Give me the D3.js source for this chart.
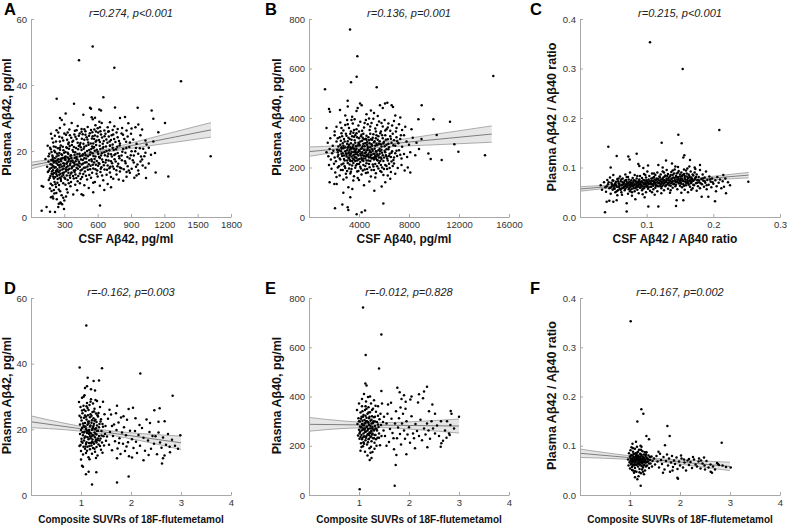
<!DOCTYPE html>
<html><head><meta charset="utf-8">
<script src="https://cdn.jsdelivr.net/npm/d3@7"></script>
<style>body{margin:0;background:#fff}svg{display:block}</style>
</head><body>
<svg id="chart" width="787" height="527"></svg>
<script>
// ---------------- DATA ----------------
const panelA_points = [
[555,51.7],[432,47.5],[750,45.2],[1350,41.1],[1617,18.4],[1236,12.3],
[231,35.8],[651,36.3],[387,34.3],[756,33.2],[531,33.1],[960,33.1],[1086,32.3],[615,32.6],[540,32.8],[630,32.3],[312,31.4],[471,31.0],[261,30.0],[546,30.2],[576,30.1],[801,30.0],[846,30.3],[1101,29.8],[276,29.4],[556,29.6],
[366,28.5],[615,28.9],[636,28.5],[711,28.7],[876,28.4],[966,28.0],[1206,28.5],[300,28.0],[420,27.6],[510,27.3],[580,27.8],[690,27.2],[750,27.5],[820,27.0],[905,26.8],[260,27.0],[345,26.5],[455,26.7],[540,26.4],[600,26.9],[660,26.2],[735,26.4],[780,26.7],[860,26.2],[940,27.2],[1000,26.5],[1146,25.7],[230,26.3],[395,26.1],[490,26.0],[625,26.0],[700,26.0],
[180,25.2],[215,24.6],[245,25.6],[280,24.0],[300,25.3],[325,23.4],[350,24.8],[372,22.8],[390,25.0],[410,23.6],[430,24.6],[445,22.4],[465,25.1],[480,23.4],[500,24.2],[515,22.6],[530,25.4],[548,23.8],[560,22.3],[575,24.7],[590,23.2],[605,25.6],[620,22.7],[640,24.1],[655,23.0],[670,25.2],[688,22.5],[700,24.4],[720,23.3],[740,25.0],[760,22.7],[780,24.2],[800,22.3],[815,25.3],[840,23.6],[870,24.4],[890,22.6],[920,23.5],[950,22.2],[985,24.8],[1030,23.2],[1040,22.0],[1101,22.9],[200,22.6],[260,22.9],[335,22.1],[455,25.8],[585,25.9],[735,22.0],[555,24.5],
[150,21.6],[165,19.2],[178,20.5],[192,18.6],[205,21.4],[218,19.6],[230,18.3],[242,20.8],[255,19.4],[268,21.7],[280,18.8],[292,20.2],[305,18.2],[318,21.1],[330,19.5],[342,20.7],[355,18.5],[368,21.8],[380,19.8],[392,18.9],[405,20.9],[418,19.1],[430,21.5],[442,18.4],[455,20.3],[468,19.0],[480,21.3],[492,18.7],[505,20.0],[518,21.9],[530,18.9],[542,20.6],[555,19.3],[568,21.2],[580,18.3],[592,20.4],[605,19.1],[618,21.6],[630,18.6],[645,20.8],[660,19.6],[675,21.4],[690,18.4],[705,20.2],[720,19.0],[735,21.0],[750,18.8],[765,20.5],[780,19.4],[798,21.7],[815,18.6],[830,20.6],[850,19.5],[868,18.2],[885,21.2],[905,19.9],[925,18.6],[945,20.9],[965,19.2],[990,18.3],[1010,20.7],[1030,19.5],[1060,21.0],[1080,18.9],[1116,19.4],[260,21.0],[310,19.7],[440,21.9],[560,20.9],[710,21.6],
[130,17.6],[145,15.2],[158,16.8],[170,14.6],[182,17.3],[190,15.8],[198,14.2],[206,16.5],[214,17.8],[222,15.1],[230,16.3],[238,14.5],[246,17.5],[254,15.6],[262,14.1],[270,16.9],[278,15.3],[286,17.9],[294,14.7],[302,16.1],[310,17.3],[318,15.0],[326,16.6],[334,14.3],[342,17.6],[350,15.7],[358,16.9],[366,14.8],[374,17.1],[382,15.4],[390,16.4],[398,14.2],[406,17.7],[414,15.9],[422,14.6],[430,16.8],[440,15.2],[450,17.4],[460,14.4],[470,16.2],[480,17.8],[490,15.0],[500,16.6],[512,14.3],[524,17.2],[536,15.5],[548,16.9],[560,14.7],[572,17.6],[584,15.8],[596,14.1],[608,16.4],[620,17.9],[634,15.1],[648,16.7],[662,14.4],[676,17.3],[690,15.6],[705,14.8],[720,16.9],[736,15.3],[752,17.5],[768,14.2],[785,16.1],[800,15.0],[818,17.2],[835,14.5],[852,16.3],[870,15.4],[888,17.7],[906,14.6],[925,16.5],[945,15.2],[965,14.1],[985,16.8],[1005,15.6],[1030,14.9],[1060,16.2],[200,17.0],[265,17.4],[330,18.0],[395,17.9],
[152,13.6],[168,11.8],[185,13.1],[200,12.2],[212,10.6],[225,13.7],[240,11.5],[255,12.8],[270,10.9],[285,13.3],[300,12.0],[315,13.9],[330,11.2],[348,12.6],[365,13.5],[385,11.7],[400,12.9],[420,10.8],[440,13.2],[460,12.1],[485,13.8],[505,11.4],[525,12.7],[550,13.4],[575,10.6],[600,12.3],[625,13.6],[650,11.1],[680,12.8],[710,13.5],[740,11.6],[770,12.9],[800,13.8],[830,11.0],[860,12.2],[890,13.4],[930,11.9],[970,13.0],[1035,11.8],[1122,13.5],[340,10.2],[560,10.4],[690,10.0],[240,13.9],
[96,9.4],[110,9.2],[170,8.6],[185,7.9],[195,6.2],[200,5.6],[210,7.1],[225,9.1],[250,8.3],[275,6.6],[300,5.0],[330,7.4],[355,9.3],[380,6.8],[415,8.1],[455,6.9],[470,6.6],[520,8.8],[560,7.5],[620,9.5],[660,8.2],[720,9.0],[250,4.0],[265,4.4],[232,5.4],[180,6.0],
[96,1.9],[171,1.6],[216,1.5],[297,2.4],[621,3.5],[280,3.9],[268,4.2],[245,3.0],[140,3.0],
[175,12.4],[188,13.8],[196,12.9],[208,13.3],[219,12.1],[228,13.0],[236,12.5],[249,13.6],[258,11.9],[266,13.1],[276,12.3],[290,12.7],[298,13.5],[308,11.6],[322,12.6],[337,13.4],[352,11.9],[360,13.2],[378,12.4],[392,13.6],[408,11.8],[425,12.4],[448,11.5],[470,13.0],[495,12.5],[540,11.9],[590,13.1],[640,12.6],[720,12.1],[790,11.4],[860,13.6],[950,12.6],
[160,14.0],[176,16.0],[186,14.9],[194,17.5],[202,15.4],[210,14.9],[218,16.9],[226,14.0],[234,17.1],[242,15.8],[250,16.7],[258,15.0],[266,15.9],[274,17.7],[282,14.4],[290,16.3],[298,15.5],[306,17.6],[314,14.4],[322,16.1],[330,15.4],[338,17.0],[346,14.6],[354,16.2],[362,17.8],[370,15.2],[378,16.6],[386,14.1],[394,15.8],[402,16.9],[410,14.9],[418,17.4],[426,15.6],[436,16.3],[446,14.1],[456,15.9],[466,17.3],[476,14.9],[486,16.5],[496,17.7],[508,15.3],[520,16.0],[532,14.5],[544,17.5],[556,15.8],[568,16.5],[580,14.5],[592,17.0],[604,15.5],[616,16.1],[628,14.6],[640,17.4],[656,15.7],[670,16.5],[684,14.3],[698,17.1],[714,15.2],[730,16.3],[746,14.6],[762,16.8],[778,15.4],[796,17.8],[812,14.8],[846,16.9],[880,14.1],[916,17.2],[958,15.9],[1000,17.4],
[158,18.4],[172,21.0],[185,19.7],[196,18.2],[210,20.1],[222,21.2],[236,19.2],[248,18.6],[262,20.4],[274,19.0],[286,21.3],[298,19.5],[312,18.3],[324,20.9],[336,19.1],[348,21.5],[360,18.7],[374,20.3],[386,21.2],[398,19.6],[410,18.2],[424,20.5],[436,19.2],[448,21.1],[462,18.6],[474,20.7],[486,19.5],[498,21.6],[512,18.4],[524,20.3],[536,19.6],[550,21.4],[562,18.5],[574,20.1],[586,21.8],[600,19.8],[612,18.2],[624,20.6],[638,19.3],[652,21.2],[666,18.7],[680,20.0],[696,19.2],[712,21.7],[728,18.3],[744,20.3],[760,19.1],[776,21.3],[792,18.4],[822,19.8],[858,20.9],[898,18.7],[938,19.9],[980,20.8],[1020,18.4],
[190,23.8],[225,22.9],[255,24.3],[290,23.2],[315,24.9],[340,22.6],[362,24.0],[380,23.1],[400,24.3],[420,22.5],[438,25.3],[458,23.7],[472,22.2],[490,24.9],[508,23.5],[522,24.6],[538,22.3],[552,25.7],[568,23.6],[582,22.8],[598,24.4],[612,23.3],[630,25.0],[646,22.2],[662,24.5],[678,23.5],[694,25.8],[708,22.9],[726,24.8],[748,23.6],[770,25.6],[792,23.0],[828,24.9],[856,22.8],[900,25.2],[480,26.6],[620,27.2],[410,26.3],[570,26.5],[330,25.6],
[160,11.2],[178,10.1],[192,9.6],[206,11.7],[220,9.9],[238,10.4],[252,9.7],[268,11.5],[290,10.2],[310,9.8],[322,8.4],[360,10.6],[398,9.8],[440,10.2],[480,9.6],[206,8.2],[228,7.3],[262,7.8],[290,5.8],[315,6.2]
];

const panelB_points = [
[3281,758],[3867,650],[3813,567],[3361,544],[5415,524],[1281,516],[14747,570],[3093,470],[9015,452],
[1600,436],[1680,425],[2480,432],[3893,440],[3800,428],[4080,459],[4213,452],[5680,452],[6080,459],[6267,462],[6613,452],[6720,444],[2900,410],[3450,405],[4600,415],[5200,420],[5500,408],[6900,410],[7300,402],[4950,430],[5900,440],[3100,446],
[2200,365],[2500,382],[2750,350],[2900,372],[3050,392],[3200,360],[3350,345],[3500,378],[3650,395],[3800,355],[3950,370],[4100,385],[4250,348],[4400,362],[4550,392],[4700,375],[4850,352],[5000,380],[5150,397],[5300,358],[5450,372],[5600,386],[5750,345],[5900,366],[6050,392],[6200,355],[6350,378],[6500,348],[6650,370],[6800,388],[7000,360],[7200,375],[7450,352],[7700,365],[8750,395],[9950,395],[11280,385],[8200,355],[1400,360],[2050,345],
[1500,300],[1700,318],[1900,288],[2050,330],[2200,305],[2350,285],[2450,322],[2600,338],[2700,298],[2800,315],[2900,282],[3000,328],[3100,306],[3200,292],[3300,336],[3400,312],[3500,284],[3600,324],[3700,300],[3800,338],[3900,289],[4000,318],[4100,305],[4200,332],[4300,286],[4400,314],[4500,298],[4600,328],[4700,283],[4800,310],[4900,336],[5000,294],[5100,320],[5200,302],[5300,288],[5400,330],[5500,312],[5600,296],[5700,338],[5800,285],[5900,318],[6000,304],[6100,330],[6200,292],[6300,314],[6400,282],[6500,326],[6600,300],[6700,336],[6800,310],[6900,288],[7000,322],[7150,298],[7300,315],[7450,284],[7600,330],[7800,305],[8000,292],[8300,320],[8600,300],[9000,315],[10215,331],[11630,294],[3550,340],[4350,296],[2550,308],[5050,312],[6050,286],[3150,320],[4650,302],
[1400,262],[1550,245],[1650,275],[1750,232],[1850,258],[1950,268],[2050,240],[2150,225],[2250,272],[2350,252],[2450,236],[2550,266],[2650,246],[2750,278],[2850,228],[2950,258],[3050,270],[3150,238],[3250,250],[3350,276],[3450,226],[3550,262],[3650,242],[3750,272],[3850,254],[3950,232],[4050,266],[4150,248],[4250,278],[4350,236],[4450,258],[4550,244],[4650,270],[4750,228],[4850,262],[4950,250],[5050,274],[5150,238],[5250,256],[5350,266],[5450,230],[5550,248],[5650,276],[5750,240],[5850,260],[5950,226],[6050,268],[6150,250],[6250,236],[6350,274],[6450,256],[6550,242],[6650,266],[6750,230],[6900,258],[7050,246],[7200,270],[7400,236],[7600,255],[7850,242],[8100,262],[8500,250],[8800,275],[9550,257],[9735,234],[11950,264],[14080,250],[10615,230],[2600,256],[3000,244],[3400,264],[3800,238],[4200,258],[4600,252],[5000,236],[5400,244],[5800,272],[6200,244],[3600,276],[4400,270],[2300,262],[2800,248],[3200,262],[3700,226],[4100,222],[4900,242],[5700,226],[6600,224],
[1600,210],[1800,195],[2000,215],[2100,180],[2300,200],[2450,168],[2600,212],[2700,190],[2850,205],[2950,175],[3100,218],[3200,196],[3350,183],[3450,208],[3600,165],[3700,199],[3850,214],[3950,186],[4100,203],[4200,172],[4350,210],[4450,192],[4600,217],[4700,180],[4850,201],[4950,164],[5100,212],[5200,190],[5350,177],[5450,205],[5600,218],[5700,186],[5850,200],[5950,170],[6100,210],[6250,194],[6400,215],[6550,182],[6700,206],[6900,175],[7100,198],[7400,210],[7650,188],[7900,200],[8100,180],[2200,162],[3000,160],[3900,158],[5300,160],[6300,168],
[1650,140],[2027,133],[2213,133],[2750,152],[3150,120],[3467,113],[3547,147],[4000,150],[4827,143],[5227,106],[5813,123],[6100,140],[6500,155],[2747,98],[4400,128],
[2080,35],[2667,51],[3093,39],[3147,28],[3813,11],[4213,19],[4480,26],[5947,55],[3300,80],
[2300,244],[2400,270],[2500,232],[2600,276],[2700,258],[2800,234],[2900,266],[3000,252],[3050,228],[3100,280],[3150,258],[3200,240],[3250,272],[3300,226],[3350,256],[3400,244],[3450,278],[3500,236],[3550,250],[3600,232],[3650,266],[3700,254],[3750,240],[3800,276],[3850,228],[3900,262],[3950,248],[4000,270],[4050,234],[4100,256],[4150,276],[4200,238],[4250,262],[4300,250],[4350,226],[4400,246],[4450,272],[4500,236],[4550,262],[4600,228],[4650,250],[4700,276],[4750,254],[4800,240],[4850,270],[4900,226],[4950,262],[5000,252],[5050,238],[5100,268],[5150,256],[5200,232],[5250,276],[5300,246],[5350,236],[5400,264],[5450,254],[5500,228],[5550,270],[5600,240],[5650,256],[5700,266],[5800,234],[5900,250],[6000,240],[6100,262],[6200,274],[6300,228],[6400,246],[6600,260],[6800,240],[7000,268],[7300,252],[3250,232],[3750,262],[4250,230],[4750,244],[5250,242],
[2300,318],[2500,292],[2650,326],[2750,288],[2850,305],[2950,336],[3050,296],[3150,284],[3250,315],[3350,298],[3450,326],[3550,292],[3650,310],[3750,286],[3850,322],[3950,300],[4050,290],[4150,326],[4250,308],[4350,336],[4450,286],[4550,316],[4650,292],[4750,322],[4850,298],[4950,314],[5050,288],[5150,334],[5250,306],[5350,318],[5450,290],[5550,326],[5650,306],[5750,294],[5850,330],[5950,298],[6150,312],[6350,296],[6550,316],[6750,290],[7050,306],[7350,330],[3700,330],[4300,320],[4900,282],[5400,296],[2600,282],[3300,282],[4000,296],[4600,312],
[2400,205],[2550,190],[2750,216],[2900,198],[3050,186],[3250,212],[3400,194],[3550,218],[3750,208],[3850,184],[4000,214],[4150,196],[4300,188],[4500,206],[4650,194],[4800,214],[5000,190],[5150,204],[5300,214],[5550,196],[5750,210],[6000,194],[6200,206],[6450,198],[6800,216],[3300,176],[4550,178],[5800,182],
[2600,360],[3100,375],[3600,352],[4000,345],[4450,380],[4900,366],[5350,345],[5800,380],[6300,362],[6950,345],[3400,392],[4800,398],[6100,350]
];

const panelC_points = [
[0.105,0.353],[0.154,0.299],[0.209,0.176],[0.1475,0.166],[0.1525,0.149],[0.1225,0.150],[0.0425,0.142],[0.055,0.123],[0.085,0.128],[0.0725,0.122],[0.0745,0.116],[0.1565,0.125],[0.155,0.120],[0.129,0.114],[0.0875,0.107],[0.089,0.103],[0.1175,0.105],[0.18,0.105],[0.165,0.115],[0.046,0.100],[0.138,0.108],[0.172,0.100],[0.102,0.104],[0.095,0.099],[0.143,0.102],[0.164,0.102],
[0.031,0.064],[0.033,0.055],[0.036,0.070],[0.038,0.060],[0.039,0.051],[0.0375,0.0094],[0.040,0.031],[0.041,0.075],[0.042,0.066],[0.044,0.033],[0.044,0.058],
[0.045,0.080],[0.046,0.047],[0.047,0.069],[0.048,0.062],[0.049,0.055],[0.050,0.073],[0.050,0.085],[0.051,0.058],[0.052,0.066],[0.053,0.050],[0.054,0.071],[0.055,0.061],[0.056,0.077],[0.056,0.044],[0.057,0.054],[0.058,0.068],[0.059,0.063],[0.060,0.082],[0.060,0.057],[0.050,0.031],[0.055,0.034],
[0.061,0.072],[0.062,0.050],[0.063,0.065],[0.064,0.078],[0.065,0.059],[0.066,0.069],[0.067,0.054],[0.068,0.086],[0.068,0.063],[0.069,0.075],[0.070,0.060],[0.070,0.011],[0.070,0.028],[0.071,0.067],[0.072,0.047],[0.072,0.081],[0.073,0.056],[0.074,0.071],[0.074,0.064],[0.075,0.052],[0.075,0.090],
[0.076,0.061],[0.077,0.074],[0.078,0.067],[0.078,0.043],[0.079,0.079],[0.080,0.058],[0.080,0.070],[0.081,0.064],[0.082,0.085],[0.082,0.052],[0.083,0.073],[0.084,0.060],[0.085,0.067],[0.085,0.078],[0.086,0.055],[0.087,0.070],[0.088,0.063],[0.088,0.048],[0.089,0.076],[0.090,0.059],[0.090,0.083],[0.083,0.036],
[0.091,0.066],[0.092,0.072],[0.093,0.054],[0.093,0.079],[0.094,0.062],[0.095,0.069],[0.096,0.087],[0.096,0.058],[0.097,0.074],[0.098,0.065],[0.099,0.050],[0.099,0.080],[0.100,0.061],[0.101,0.071],[0.101,0.092],[0.102,0.057],[0.103,0.076],[0.103,0.066],[0.104,0.083],[0.105,0.053],[0.1025,0.021],[0.097,0.040],
[0.106,0.069],[0.107,0.078],[0.107,0.061],[0.108,0.088],[0.109,0.073],[0.110,0.056],[0.110,0.066],[0.111,0.081],[0.112,0.070],[0.113,0.059],[0.113,0.085],[0.114,0.074],[0.115,0.064],[0.116,0.090],[0.116,0.052],[0.117,0.077],[0.118,0.068],[0.119,0.082],[0.120,0.062],[0.120,0.073],[0.1175,0.021],[0.112,0.045],
[0.121,0.086],[0.122,0.058],[0.122,0.076],[0.123,0.069],[0.124,0.092],[0.125,0.065],[0.125,0.080],[0.126,0.054],[0.127,0.074],[0.128,0.084],[0.128,0.062],[0.129,0.071],[0.130,0.095],[0.130,0.078],[0.131,0.066],[0.132,0.087],[0.132,0.057],[0.133,0.075],[0.134,0.069],[0.135,0.082],[0.135,0.049],
[0.136,0.063],[0.137,0.091],[0.137,0.077],[0.138,0.071],[0.139,0.085],[0.139,0.059],[0.140,0.080],[0.141,0.067],[0.142,0.074],[0.142,0.096],[0.143,0.062],[0.144,0.083],[0.144,0.070],[0.145,0.088],[0.145,0.034],[0.146,0.076],[0.146,0.056],[0.147,0.081],[0.148,0.068],[0.148,0.093],[0.149,0.073],[0.150,0.063],[0.144,0.022],[0.150,0.086],
[0.151,0.078],[0.151,0.070],[0.152,0.090],[0.153,0.060],[0.153,0.083],[0.154,0.074],[0.155,0.066],[0.155,0.034],[0.156,0.087],[0.157,0.079],[0.157,0.055],[0.158,0.071],[0.159,0.094],[0.159,0.064],[0.160,0.082],[0.161,0.075],[0.162,0.068],[0.162,0.050],[0.163,0.086],[0.164,0.072],[0.165,0.080],[0.165,0.061],
[0.166,0.092],[0.167,0.069],[0.168,0.077],[0.169,0.058],[0.170,0.084],[0.170,0.073],[0.171,0.064],[0.172,0.090],[0.173,0.079],[0.174,0.068],[0.175,0.053],[0.175,0.086],[0.176,0.074],[0.177,0.062],[0.178,0.081],[0.179,0.070],[0.180,0.095],[0.180,0.058],
[0.182,0.077],[0.183,0.066],[0.1825,0.041],[0.184,0.086],[0.185,0.073],[0.186,0.061],[0.187,0.080],[0.188,0.069],[0.189,0.092],[0.190,0.056],[0.191,0.075],[0.1925,0.041],[0.193,0.065],[0.194,0.082],[0.196,0.071],[0.197,0.060],[0.198,0.078],[0.200,0.067],
[0.2025,0.032],[0.203,0.074],[0.205,0.062],[0.206,0.081],[0.208,0.069],[0.210,0.076],[0.212,0.058],[0.214,0.072],[0.215,0.085],[0.216,0.061],[0.219,0.048],[0.218,0.078],[0.2525,0.071],[0.222,0.070],[0.225,0.064],[0.204,0.052],
[0.040,0.062],[0.043,0.070],[0.046,0.059],[0.048,0.066],[0.049,0.074],[0.051,0.063],[0.052,0.057],[0.053,0.068],[0.054,0.064],[0.055,0.052],[0.057,0.072],[0.058,0.060],[0.059,0.067],[0.061,0.055],[0.062,0.064],[0.062,0.076],[0.063,0.058],[0.064,0.070],[0.065,0.066],[0.066,0.061],[0.067,0.073],[0.068,0.057],[0.069,0.066],[0.070,0.071],[0.071,0.062],[0.072,0.068],[0.073,0.076],[0.074,0.059],[0.075,0.066],[0.076,0.070],[0.077,0.056],[0.078,0.063],[0.079,0.069],[0.080,0.062],[0.081,0.074],[0.082,0.066],[0.083,0.058],[0.084,0.071],[0.085,0.063],[0.086,0.068],[0.087,0.061],[0.088,0.073],[0.089,0.066],[0.090,0.070],[0.091,0.060],[0.092,0.064],[0.093,0.070],[0.094,0.057],[0.095,0.075],[0.096,0.066],[0.097,0.061],[0.098,0.070],[0.099,0.067],[0.100,0.074],[0.101,0.063],[0.102,0.069],[0.103,0.060],[0.104,0.072],[0.105,0.067],[0.106,0.061],[0.107,0.073],[0.108,0.066],[0.109,0.079],[0.110,0.063],[0.111,0.071],[0.112,0.076],[0.113,0.067],[0.114,0.063],[0.115,0.078],[0.116,0.070],[0.117,0.062],[0.118,0.074],[0.119,0.068],[0.120,0.080],[0.121,0.066],[0.122,0.071],[0.123,0.062],[0.124,0.077],[0.125,0.073],[0.126,0.068],[0.127,0.082],[0.128,0.070],[0.129,0.064],[0.130,0.075],[0.131,0.083],[0.132,0.069],[0.133,0.079],[0.134,0.064],[0.135,0.073],[0.136,0.085],[0.137,0.068],[0.138,0.078],[0.139,0.072],[0.140,0.066],[0.141,0.088],[0.142,0.079],[0.143,0.073],[0.144,0.065],[0.145,0.080],[0.146,0.071],[0.147,0.090],[0.148,0.077],[0.149,0.068],[0.150,0.082],[0.151,0.074],[0.152,0.067],[0.153,0.078],[0.154,0.085],[0.155,0.072],[0.156,0.063],[0.157,0.083],[0.158,0.076],[0.159,0.069],[0.160,0.088],[0.161,0.070],[0.162,0.079],[0.163,0.065],[0.164,0.083],[0.165,0.074],[0.166,0.068],[0.167,0.080],[0.168,0.072],[0.169,0.086],[0.170,0.065],[0.172,0.076],[0.174,0.081],[0.176,0.069],[0.178,0.074],[0.181,0.068],[0.184,0.078],[0.187,0.072],[0.190,0.064],[0.195,0.076],[0.199,0.070],[0.063,0.045],[0.078,0.050],[0.094,0.046],[0.108,0.050],[0.122,0.048],[0.136,0.054],[0.152,0.049],[0.167,0.055],[0.058,0.078],[0.070,0.081],[0.086,0.083],[0.098,0.085],[0.111,0.088],[0.126,0.090],[0.139,0.094],[0.156,0.096],[0.124,0.100],[0.147,0.101],[0.161,0.098],[0.173,0.097]
];

const panelD_points = [
[1.106,51.6],[0.973,38.8],[1.42,38.6],[1.133,35.7],[1.253,34.7],[1.36,34.9],[2.186,37.0],[2.833,30.2],[2.573,26.4],[2.466,25.8],[2.04,26.6],[1.953,26.2],[1.72,27.2],[1.29,28.9],[1.053,29.9],[2.673,22.5],[2.17,21.3],
[1.099,6.3],[1.02,8.9],[1.04,8.6],[1.153,7.1],[1.306,6.9],[1.22,3.2],[1.72,3.8],[1.953,5.6],[2.62,9.6],[2.64,11.2],[2.986,18.2],[2.773,14.7],[2.353,12.2],[1.72,11.2],[2.02,11.4],
[0.96,28.3],[0.97,24.1],[0.98,18.6],[0.98,21.5],[0.99,15.2],[0.99,26.8],[1.00,19.8],[1.00,13.4],[1.01,22.7],[1.01,17.1],[1.02,29.6],[1.02,20.4],[1.03,15.9],[1.03,24.9],[1.04,18.2],[1.04,12.3],[1.05,21.1],[1.05,27.2],[0.97,14.9],[1.00,10.8],
[1.06,16.6],[1.06,23.5],[1.07,19.3],[1.07,30.4],[1.08,14.1],[1.08,21.9],[1.09,17.8],[1.09,25.6],[1.10,20.2],[1.10,12.8],[1.11,23.0],[1.11,16.1],[1.12,18.9],[1.12,28.0],[1.13,14.7],[1.13,21.4],[1.14,19.6],[1.14,24.3],[1.15,17.0],[1.15,11.5],[1.08,32.6],[1.12,33.1],[1.06,19.0],[1.10,15.5],[1.13,26.5],
[1.16,22.4],[1.16,15.8],[1.17,19.1],[1.17,27.4],[1.18,13.9],[1.18,20.9],[1.19,24.6],[1.19,17.3],[1.20,18.7],[1.20,29.2],[1.21,15.1],[1.21,22.0],[1.22,19.9],[1.22,12.6],[1.23,25.3],[1.23,16.9],[1.24,20.6],[1.24,14.3],[1.25,23.4],[1.25,18.1],[1.17,10.9],[1.20,32.2],[1.22,16.2],[1.18,23.7],[1.24,27.9],
[1.26,15.6],[1.26,21.7],[1.27,19.0],[1.27,26.3],[1.28,13.2],[1.28,17.6],[1.29,22.9],[1.29,16.4],[1.30,20.3],[1.30,24.8],[1.31,14.6],[1.31,18.4],[1.32,21.2],[1.32,28.6],[1.33,16.7],[1.33,12.0],[1.34,19.6],[1.34,23.9],[1.35,15.4],[1.35,25.0],[1.28,31.8],[1.30,11.3],
[1.36,18.0],[1.37,21.6],[1.38,14.9],[1.39,17.2],[1.40,23.1],[1.41,19.5],[1.42,16.0],[1.43,12.9],[1.44,20.8],[1.45,17.9],[1.46,15.1],[1.47,24.6],[1.48,18.6],[1.49,21.0],[1.50,16.5],[1.38,26.8],[1.44,28.4],[1.40,13.8],
[1.52,17.8],[1.54,23.2],[1.56,15.3],[1.58,19.2],[1.60,24.5],[1.62,13.6],[1.64,18.0],[1.66,21.5],[1.68,16.4],[1.70,24.9],[1.71,19.8],[1.73,14.2],[1.75,22.1],[1.77,17.3],[1.79,12.5],[1.80,23.6],[1.82,19.0],[1.84,15.6],[1.86,20.6],[1.88,13.4],[1.90,18.2],[1.92,22.9],[1.94,16.1],[1.96,11.8],[1.98,19.6],[1.85,24.0],[1.62,21.0],[1.76,15.8],[1.57,26.0],[1.91,14.8],
[2.02,17.0],[2.05,14.3],[2.08,19.5],[2.10,16.2],[2.12,12.8],[2.15,18.3],[2.18,15.0],[2.22,20.4],[2.25,17.4],[2.28,13.5],[2.31,23.0],[2.34,16.6],[2.37,19.2],[2.40,14.1],[2.43,18.0],[2.46,15.6],[2.49,17.9],[2.52,12.4],[2.55,19.0],[2.58,16.0],[2.61,14.4],[2.64,17.5],[2.67,12.0],[2.70,15.3],[2.74,18.6],[2.78,13.0],[2.82,16.8],[2.88,15.0],[2.94,14.1],[2.38,21.9],[2.25,10.6],[2.55,22.3],[2.09,23.4],
[1.00,23.6],[1.01,16.3],[1.02,25.7],[1.03,19.1],[1.04,21.8],[1.05,14.7],[1.06,26.0],[1.07,17.4],[1.08,24.2],[1.09,20.9],[1.10,23.8],[1.11,19.6],[1.12,13.5],[1.13,17.6],[1.14,22.3],[1.15,25.9],[1.16,19.8],[1.17,14.9],[1.18,17.9],[1.19,21.2],[1.20,15.8],[1.21,24.1],[1.22,22.8],[1.23,18.3],[1.24,16.0],[1.25,21.1],[1.26,25.4],[1.27,14.1],[1.28,20.0],[1.29,18.6],[1.30,16.9],[1.31,22.2],[1.32,19.5],[1.33,24.3],[1.34,17.2],[1.36,20.6],[1.37,16.6],[1.39,22.4],[1.41,18.1],[1.43,21.6],[1.06,20.8],[1.09,14.8],[1.11,27.0],[1.16,18.6],[1.19,28.4],[1.23,20.2],[1.27,22.6],[1.31,16.0],[1.15,21.8],[1.21,17.8]
];

const panelE_points = [
[1.081,761],[1.447,652],[1.134,569],[1.401,514],[1.447,422],[1.127,453],[1.15,445],[1.767,436],[1.814,417],[1.934,379],[2.027,388],[2.18,376],[2.2,409],[2.36,440],[2.28,393],[2.467,368],[2.834,341],[2.85,330],[3.0,318],[2.828,284],[2.814,244],[2.75,232],[2.647,210],[2.634,196],[2.367,194],[1.947,165],[1.747,162],[1.734,122],[1.714,38],[1.014,23],[1.214,142],[1.25,150],[1.17,160],[1.9,405],[1.85,390],[2.05,400],[2.3,420],
[0.96,345],[0.97,288],[0.98,242],[0.99,312],[1.00,265],[1.00,372],[1.01,228],[1.02,298],[1.02,256],[1.03,335],[1.04,274],[1.04,210],[1.05,318],[1.05,244],[1.06,288],[1.06,360],[1.07,232],[1.07,302],[1.08,266],[1.08,198],[1.09,325],[1.09,250],[1.10,282],[1.10,410],[1.11,238],[1.11,305],[1.12,270],[1.12,345],[1.13,222],[1.13,292],[1.14,258],[1.14,380],[1.15,314],[1.15,240],[1.16,278],[1.16,205],[1.17,330],[1.17,262],[1.18,296],[1.18,248],[1.19,356],[1.19,226],[1.20,284],[1.20,312],[1.21,254],[1.21,190],[1.22,336],[1.22,270],[1.23,236],[1.23,302],[1.24,372],[1.24,258],[1.25,290],[1.25,218],[1.26,320],[1.26,246],[1.27,276],[1.28,350],[1.28,230],[1.29,300],[1.30,262],[1.30,385],[1.31,212],[1.32,318],[1.32,280],[1.33,244],[1.34,338],[1.35,268],[1.36,296],[1.37,232],[1.38,360],[1.39,276],[1.40,250],[1.41,308],[1.42,202],[1.43,330],[1.44,284],[1.45,240],[1.46,372],[1.48,296],[1.49,262],[1.50,318],[1.03,180],[1.12,176],[1.23,172],[1.06,390],[1.18,398],[1.35,200],[1.27,175],[1.15,350],[1.09,214],[1.22,400],[1.11,265],[1.20,244],[1.05,276],[1.14,300],[1.25,260],[1.30,230],[1.38,322],
[1.52,240],[1.55,290],[1.57,330],[1.60,215],[1.62,268],[1.65,310],[1.67,252],[1.70,186],[1.72,290],[1.74,340],[1.76,230],[1.78,274],[1.80,312],[1.82,248],[1.84,205],[1.86,290],[1.88,330],[1.90,262],[1.92,228],[1.95,300],[1.97,246],[2.00,275],[2.02,212],[2.05,320],[2.08,250],[2.10,230],[2.13,288],[2.16,260],[2.20,240],[2.23,306],[2.26,222],[2.30,270],[2.33,246],[2.36,290],[2.39,262],[2.42,228],[2.45,300],[2.48,270],[2.52,250],[2.56,282],[2.60,240],[2.64,300],[2.68,220],[2.72,262],[2.76,300],[2.80,250],[2.90,270],[1.58,368],[1.64,375],[1.69,230],[1.83,355],[2.40,340],[2.12,190],[1.55,200],[2.52,330],[1.93,350],
[1.00,300],[1.01,250],[1.02,278],[1.03,236],[1.04,310],[1.05,262],[1.06,226],[1.07,284],[1.08,318],[1.09,270],[1.10,238],[1.11,290],[1.12,256],[1.13,322],[1.14,232],[1.15,276],[1.16,300],[1.17,246],[1.18,268],[1.19,292],[1.20,228],[1.21,318],[1.22,252],[1.23,280],[1.24,238],[1.25,306],[1.26,270],[1.27,250],[1.28,292],[1.29,266],[1.30,316],[1.31,244],[1.32,298],[1.33,270],[1.34,226],[1.36,262],[1.38,286],[1.40,232],[1.07,340],[1.13,360],[1.19,335],[1.26,345],[1.33,362],[1.10,208],[1.18,214],[1.24,196],[1.31,188],[1.05,195]
];

const panelF_points = [
[1.014,0.353],[1.227,0.174],[1.267,0.165],[1.147,0.149],[1.747,0.140],[1.794,0.120],[1.70,0.101],[1.327,0.120],[1.38,0.113],[2.834,0.106],[1.214,0.019],[1.147,0.032],[1.10,0.036],[1.947,0.035],[1.96,0.033],[3.014,0.056],[2.78,0.061],[2.74,0.065],[2.48,0.076],[2.38,0.074],[2.18,0.073],[2.08,0.072],[2.614,0.047],[2.64,0.045],[2.50,0.052],[1.12,0.108],[1.05,0.104],[1.23,0.098],
[0.96,0.072],[0.97,0.060],[0.98,0.085],[0.99,0.066],[1.00,0.078],[1.00,0.054],[1.01,0.091],[1.02,0.070],[1.02,0.062],[1.03,0.081],[1.04,0.057],[1.04,0.074],[1.05,0.066],[1.06,0.088],[1.06,0.050],[1.07,0.077],[1.07,0.069],[1.08,0.060],[1.09,0.083],[1.09,0.072],[1.10,0.055],[1.10,0.094],[1.11,0.067],[1.12,0.079],[1.12,0.061],[1.13,0.073],[1.13,0.047],[1.14,0.086],[1.15,0.064],[1.15,0.070],[1.16,0.058],[1.16,0.080],[1.17,0.075],[1.18,0.066],[1.18,0.092],[1.19,0.053],[1.19,0.071],[1.20,0.084],[1.20,0.062],[1.21,0.077],[1.22,0.068],[1.22,0.044],[1.23,0.081],[1.23,0.059],[1.24,0.073],[1.25,0.065],[1.25,0.089],[1.26,0.056],[1.27,0.076],[1.27,0.068],[1.28,0.082],[1.29,0.061],[1.30,0.072],[1.30,0.050],[1.31,0.079],[1.32,0.066],[1.33,0.087],[1.34,0.060],[1.35,0.074],[1.36,0.068],[1.37,0.080],[1.38,0.055],[1.40,0.071],[1.41,0.064],[1.43,0.078],[1.44,0.058],[1.45,0.069],[1.03,0.097],[1.08,0.045],[1.17,0.038],[1.21,0.100],[1.11,0.085],[1.14,0.076],[1.24,0.052],[1.05,0.080],[1.18,0.070],[1.26,0.074],[1.09,0.063],[1.28,0.042],[1.32,0.082],
[1.48,0.074],[1.50,0.062],[1.53,0.079],[1.55,0.068],[1.58,0.056],[1.60,0.084],[1.62,0.071],[1.64,0.063],[1.67,0.077],[1.69,0.052],[1.72,0.069],[1.74,0.082],[1.76,0.060],[1.78,0.074],[1.80,0.047],[1.82,0.066],[1.84,0.079],[1.86,0.057],[1.88,0.070],[1.90,0.063],[1.93,0.076],[1.95,0.053],[1.98,0.068],[2.00,0.060],[2.03,0.074],[2.06,0.056],[2.09,0.066],[2.12,0.050],[2.15,0.070],[2.18,0.061],[2.21,0.067],[2.24,0.055],[2.28,0.072],[2.31,0.062],[2.34,0.058],[2.37,0.068],[2.41,0.054],[2.45,0.064],[2.49,0.060],[2.53,0.069],[2.57,0.056],[2.61,0.062],[2.66,0.058],[2.70,0.052],[2.76,0.063],[2.85,0.060],[2.92,0.057],[1.57,0.088],[1.85,0.050],[2.02,0.080],[2.26,0.077],[1.66,0.045],[2.42,0.070],
[1.00,0.068],[1.01,0.074],[1.02,0.080],[1.03,0.064],[1.04,0.069],[1.05,0.073],[1.06,0.061],[1.07,0.083],[1.08,0.070],[1.09,0.076],[1.10,0.066],[1.11,0.073],[1.12,0.069],[1.13,0.081],[1.14,0.062],[1.15,0.077],[1.16,0.070],[1.17,0.065],[1.18,0.078],[1.19,0.062],[1.20,0.073],[1.21,0.067],[1.22,0.082],[1.23,0.070],[1.24,0.064],[1.25,0.078],[1.26,0.068],[1.27,0.060],[1.28,0.074],[1.29,0.069],[1.30,0.066],[1.31,0.071],[1.32,0.058],[1.33,0.076],[1.34,0.067],[1.36,0.072],[1.38,0.064],[1.40,0.077],[1.06,0.095],[1.14,0.098],[1.22,0.092],[1.10,0.048],[1.19,0.046],[1.26,0.047],[1.04,0.051],[1.16,0.088],[1.30,0.087]
];

// regression fit line and 95% CI band (x, fit, lower, upper)
const regA_x = [0,250,500,750,1000,1300,1620];
const regA_fit = [15.6,17.27,18.93,20.6,22.27,24.27,26.4];
const regA_lo = [14.6,16.72,18.58,20.05,21.27,22.67,24.2];
const regA_hi = [16.6,17.82,19.28,21.15,23.27,25.87,28.6];
const regB_x = [0,2500,4700,7500,10000,14616];
const regB_fit = [264,276.1,286.8,300.4,312.6,335];
const regB_lo = [245,264.1,277.8,286.4,291.6,302];
const regB_hi = [283,288.1,295.8,314.4,333.6,368];
const regC_x = [0,0.05,0.115,0.18,0.253];
const regC_fit = [0.0566,0.0621,0.0693,0.0765,0.0846];
const regC_lo = [0.0521,0.0593,0.0677,0.0737,0.0791];
const regC_hi = [0.0611,0.0649,0.0709,0.0793,0.0901];
const regD_x = [0,0.7,1.4,2.2,3];
const regD_fit = [22.3,20.81,19.31,17.61,15.9];
const regD_lo = [20.5,19.86,18.71,16.51,13.85];
const regD_hi = [24.1,21.76,19.91,18.71,17.95];
const regE_x = [0,0.7,1.4,2.2,3];
const regE_fit = [287,285.4,283.7,281.9,280];
const regE_lo = [259,270.4,273.7,264.9,251.5];
const regE_hi = [315,300.4,293.7,298.9,308.5];
const regF_x = [0,0.7,1.4,2.2,3];
const regF_fit = [0.0847,0.0785,0.0722,0.0651,0.058];
const regF_lo = [0.0762,0.0737,0.0692,0.0601,0.0495];
const regF_hi = [0.0932,0.0833,0.0752,0.0701,0.0665];

// axis ticks
const ticksA_x = [300,600,900,1200,1500,1800];
const ticksB_x = [4000,8000,12000,16000];
const ticksC_x = [0.1,0.2,0.3];
const ticksSUVR_x = [1,2,3,4];
const ticksAb42_y = [0,20,40,60];
const ticksAb40_y = [0,200,400,600,800];
const ticksRatio_y = [0,0.1,0.2,0.3,0.4];

// texts
const panelLetters = ["A","B","C","D","E","F"];
const statTexts = ["r=0.274, p<0.001","r=0.136, p=0.001","r=0.215, p<0.001","r=-0.162, p=0.003","r=-0.012, p=0.828","r=-0.167, p=0.002"];
const xTitles = ["CSF Aβ42, pg/ml","CSF Aβ40, pg/ml","CSF Aβ42 / Aβ40 ratio","Composite SUVRs of 18F-flutemetamol","Composite SUVRs of 18F-flutemetamol","Composite SUVRs of 18F-flutemetamol"];
const yTitles = ["Plasma Aβ42, pg/ml","Plasma Aβ40, pg/ml","Plasma Aβ42 / Aβ40 ratio","Plasma Aβ42, pg/ml","Plasma Aβ40, pg/ml","Plasma Aβ42 / Aβ40 ratio"];

// ---------------- LAYOUT ----------------
const FONT = "'Liberation Sans', Arial, Helvetica, sans-serif";
const cols = [
  {x0:31, x1:231, letterX:4, yTitleX:10.5},
  {x0:309, x1:509, letterX:265, yTitleX:281},
  {x0:580, x1:780, letterX:530, yTitleX:556}
];
const rows = [
  {y0:217, y1:19, letterY:15, xTitleY:243, xTitleSize:12, xTitleShift:-5},
  {y0:495, y1:298, letterY:294, xTitleY:523, xTitleSize:10, xTitleShift:0}
];

const panels = [
  {pts:panelA_points, xd:[0,1800], yd:[0,60], xt:ticksA_x, yt:ticksAb42_y, yf:d3.format("d"), xf:d3.format("d"), reg:[regA_x,regA_fit,regA_lo,regA_hi]},
  {pts:panelB_points, xd:[0,16000], yd:[0,800], xt:ticksB_x, yt:ticksAb40_y, yf:d3.format("d"), xf:d3.format("d"), reg:[regB_x,regB_fit,regB_lo,regB_hi]},
  {pts:panelC_points, xd:[0,0.3], yd:[0,0.4], xt:ticksC_x, yt:ticksRatio_y, yf:d3.format(".1f"), xf:d3.format(".1f"), reg:[regC_x,regC_fit,regC_lo,regC_hi]},
  {pts:panelD_points, xd:[0,4], yd:[0,60], xt:ticksSUVR_x, yt:ticksAb42_y, yf:d3.format("d"), xf:d3.format("d"), reg:[regD_x,regD_fit,regD_lo,regD_hi]},
  {pts:panelE_points, xd:[0,4], yd:[0,800], xt:ticksSUVR_x, yt:ticksAb40_y, yf:d3.format("d"), xf:d3.format("d"), reg:[regE_x,regE_fit,regE_lo,regE_hi]},
  {pts:panelF_points, xd:[0,4], yd:[0,0.4], xt:ticksSUVR_x, yt:ticksRatio_y, yf:d3.format(".1f"), xf:d3.format("d"), reg:[regF_x,regF_fit,regF_lo,regF_hi]}
];

const svg = d3.select("#chart");
svg.append("rect").attr("width",787).attr("height",527).attr("fill","#fff");

panels.forEach((p, i) => {
  const c = cols[i % 3], r = rows[Math.floor(i / 3)];
  const x = d3.scaleLinear().domain(p.xd).range([c.x0, c.x1]);
  const y = d3.scaleLinear().domain(p.yd).range([r.y0, r.y1]);
  const g = svg.append("g");

  // CI band
  const [rx, rf, rl, rh] = p.reg;
  const band = rx.map((v, k) => ({x: v, f: rf[k], lo: rl[k], hi: rh[k]}));
  g.append("path").datum(band)
    .attr("d", d3.area().x(d => x(d.x)).y0(d => y(d.lo)).y1(d => y(d.hi)).curve(d3.curveMonotoneX))
    .attr("fill", "#e6e6e6").attr("stroke", "none");
  ["lo", "hi"].forEach(k => {
    g.append("path").datum(band)
      .attr("d", d3.line().x(d => x(d.x)).y(d => y(d[k])).curve(d3.curveMonotoneX))
      .attr("fill", "none").attr("stroke", "#8c8c8c").attr("stroke-width", 0.7);
  });
  g.append("path").datum(band)
    .attr("d", d3.line().x(d => x(d.x)).y(d => y(d.f)))
    .attr("fill", "none").attr("stroke", "#707070").attr("stroke-width", 0.9);

  // points
  g.append("g").selectAll("circle").data(p.pts).join("circle")
    .attr("cx", d => x(d[0])).attr("cy", d => y(d[1]))
    .attr("r", 1.25).attr("fill", "#000");

  // axes
  const xa = g.append("g").attr("transform", `translate(0,${r.y0})`)
    .call(d3.axisBottom(x).tickValues(p.xt).tickFormat(p.xf).tickSizeInner(-3).tickSizeOuter(0).tickPadding(4));
  const ya = g.append("g").attr("transform", `translate(${c.x0},0)`)
    .call(d3.axisLeft(y).tickValues(p.yt).tickFormat(p.yf).tickSizeInner(-3).tickSizeOuter(0).tickPadding(4));
  [xa, ya].forEach(a => {
    a.select(".domain").attr("stroke", "#a8a8a8").attr("stroke-width", 1);
    a.selectAll(".tick line").attr("stroke", "#a8a8a8");
    a.selectAll(".tick text").attr("fill", "#333").style("font-family", FONT).style("font-size", "9.5px");
  });

  // stat annotation
  g.append("text").attr("x", (c.x0 + c.x1) / 2).attr("y", r.y1 - 2.5)
    .attr("text-anchor", "middle").style("font-family", FONT).style("font-size", "11px")
    .style("font-style", "italic").attr("fill", "#222").text(statTexts[i]);

  // panel letter
  g.append("text").attr("x", c.letterX).attr("y", r.letterY)
    .style("font-family", FONT).style("font-size", "16.5px").style("font-weight", "bold")
    .attr("fill", "#000").text(panelLetters[i]);

  // x title
  g.append("text").attr("x", (c.x0 + c.x1) / 2 + r.xTitleShift).attr("y", r.xTitleY)
    .attr("text-anchor", "middle").style("font-family", FONT).style("font-size", r.xTitleSize + "px")
    .style("font-weight", "bold").attr("fill", "#111").text(xTitles[i]);

  // y title
  g.append("text").attr("transform", `translate(${c.yTitleX},${(r.y0 + r.y1) / 2 - 1}) rotate(-90)`)
    .attr("text-anchor", "middle").style("font-family", FONT).style("font-size", "12.5px")
    .style("font-weight", "bold").attr("fill", "#111").text(yTitles[i]);
});
</script>
</body></html>
